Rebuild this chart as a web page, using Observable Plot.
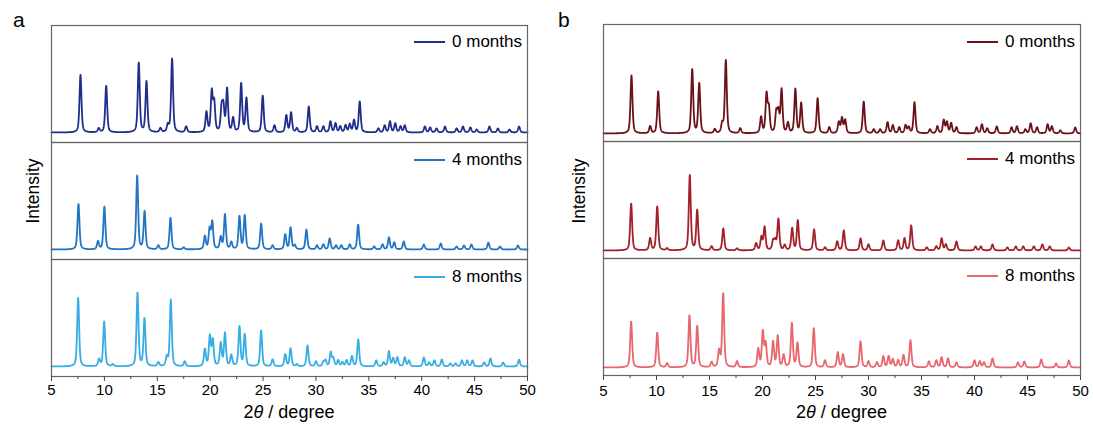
<!DOCTYPE html>
<html><head><meta charset="utf-8">
<script src="https://cdn.jsdelivr.net/npm/d3@7"></script>
<script src="https://cdn.jsdelivr.net/npm/@observablehq/plot@0.6"></script>
<style>
body{margin:0;background:#fff;font-family:"Liberation Sans",Arial,sans-serif;}
#wrap{position:relative;width:1093px;height:425px;overflow:hidden;}
.abs{position:absolute;white-space:nowrap;color:#000;}
.leg{position:absolute;display:flex;align-items:center;font-size:17px;white-space:nowrap;}
.leg span.sw{display:inline-block;width:31px;height:2px;margin-right:7px;}
svg{position:absolute;}
</style></head><body><div id="wrap"></div>
<script>
// ---- categories ----
const series = ["0 months", "4 months", "8 months"];
const colorsA = ["#1f2d8c", "#2274c4", "#37ade4"];
const colorsB = ["#6b1119", "#a3202b", "#e8666c"];
const xTicks = [5, 10, 15, 20, 25, 30, 35, 40, 45, 50];
const xMinorTicks = [7.5, 12.5, 17.5, 22.5, 27.5, 32.5, 37.5, 42.5, 47.5];

// ---- panel a, 0 months: peak positions (2θ) and heights ----
const a0Pos = [7.74, 9.47, 10.17, 13.25, 13.98, 15.3, 16.0, 16.4, 17.73, 19.65, 20.15, 20.38, 21.08, 21.25, 21.6, 22.17, 22.93, 23.43, 24.97, 26.08, 27.2, 27.65, 28.2, 29.32, 30.1, 30.7, 31.37, 31.85, 32.3, 32.8, 33.2, 33.6, 34.14, 35.9, 36.5, 37.0, 37.5, 38.0, 38.4, 40.3, 40.8, 41.4, 42.2, 43.3, 43.9, 44.6, 45.2, 46.4, 47.2, 48.3, 49.2];
const a0H   = [58, 4, 47, 70, 51, 4, 7, 74, 6, 20, 40, 29, 23, 24, 43, 14, 49, 34, 37, 7, 17, 20, 4, 26, 6, 6, 11, 9, 6, 7, 8, 12, 31, 4, 7, 11, 9, 6, 7, 6, 5, 4, 6, 4, 6, 5, 3, 6, 4, 3, 6];
// ---- panel a, 4 months ----
const a1Pos = [7.55, 9.4, 10.0, 13.1, 13.8, 15.1, 16.25, 17.5, 19.5, 19.95, 20.2, 21.0, 21.4, 22.0, 22.77, 23.27, 24.82, 25.9, 27.1, 27.6, 28.0, 29.1, 30.1, 30.7, 31.3, 31.9, 32.4, 33.2, 33.99, 35.5, 36.3, 36.9, 37.4, 38.3, 40.2, 41.8, 43.3, 44.0, 44.7, 46.3, 47.4, 49.1];
const a1H   = [46, 8, 43, 74, 38, 4, 32, 2, 13, 20, 27, 12, 35, 7, 33, 34, 26, 4, 15, 22, 4, 20, 4, 5, 11, 4, 4, 5, 25, 3, 5, 12, 7, 8, 5, 6, 3, 4, 5, 7, 3, 4];
// ---- panel a, 8 months ----
const a2Pos = [7.52, 9.5, 9.98, 10.8, 13.13, 13.79, 15.1, 15.9, 16.28, 17.6, 19.5, 19.97, 20.25, 21.0, 21.4, 22.0, 22.77, 23.27, 24.82, 25.9, 27.1, 27.6, 28.2, 29.2, 30.0, 30.7, 30.9, 31.4, 31.65, 32.1, 32.5, 32.9, 33.4, 34.0, 35.7, 36.4, 36.9, 37.3, 37.7, 38.4, 38.8, 40.2, 40.7, 41.2, 41.9, 42.7, 43.2, 43.8, 44.3, 44.8, 45.9, 46.5, 47.7, 49.2];
const a2H   = [69, 7, 45, 2, 74, 48, 4, 9, 67, 5, 17, 30, 26, 23, 33, 11, 40, 32, 36, 7, 12, 18, 2, 21, 5, 4, 6, 14, 8, 6, 4, 6, 10, 27, 6, 4, 15, 8, 9, 9, 6, 9, 4, 6, 7, 3, 3, 6, 6, 6, 4, 8, 4, 7];

// ---- panel b, 0 months ----
const b0Pos = [7.64, 9.4, 10.16, 13.37, 14.03, 15.5, 16.2, 16.54, 17.9, 19.87, 20.38, 20.6, 21.3, 21.5, 21.8, 22.4, 23.1, 23.65, 25.2, 26.3, 27.2, 27.5, 27.8, 29.55, 30.5, 31.1, 31.8, 32.3, 32.9, 33.5, 33.8, 34.34, 35.8, 36.5, 37.1, 37.4, 37.8, 38.3, 40.2, 40.7, 41.2, 42.1, 43.5, 44.0, 44.8, 45.3, 45.9, 46.9, 47.3, 48.1, 49.5];
const b0H   = [58, 7, 42, 64, 50, 4, 9, 73, 5, 16, 38, 24, 20, 20, 43, 10, 44, 30, 35, 6, 11, 15, 13, 32, 4, 4, 11, 8, 6, 8, 6, 31, 4, 7, 13, 11, 10, 6, 6, 9, 5, 7, 6, 7, 4, 10, 6, 9, 7, 3, 6];
// ---- panel b, 4 months ----
const b1Pos = [7.61, 9.4, 10.07, 11.0, 13.14, 13.84, 15.2, 16.3, 17.6, 19.4, 19.9, 20.2, 21.0, 21.2, 21.5, 22.1, 22.8, 23.33, 24.87, 25.9, 27.05, 27.67, 29.25, 30.0, 31.4, 32.8, 33.4, 34.03, 35.5, 36.4, 36.9, 37.3, 38.3, 40.1, 40.6, 41.7, 43.1, 43.9, 44.6, 45.6, 46.4, 47.1, 48.9];
const b1H   = [47, 12, 44, 2, 75, 40, 4, 22, 2, 7, 13, 23, 9, 9, 31, 5, 22, 30, 21, 3, 9, 20, 12, 6, 10, 10, 12, 25, 3, 4, 12, 6, 9, 4, 4, 6, 3, 4, 4, 4, 6, 4, 3];
// ---- panel b, 8 months ----
const b2Pos = [7.61, 10.07, 11.0, 13.11, 13.84, 15.2, 15.9, 16.29, 17.6, 19.6, 20.03, 20.3, 21.0, 21.44, 22.0, 22.77, 23.3, 24.84, 25.9, 27.1, 27.6, 29.25, 30.0, 30.8, 31.4, 31.9, 32.3, 32.8, 33.3, 33.96, 35.7, 36.4, 36.9, 37.5, 38.3, 40.0, 40.5, 40.9, 41.7, 44.1, 44.7, 46.3, 47.7, 48.9];
const b2H   = [46, 35, 4, 52, 41, 5, 16, 74, 6, 18, 35, 23, 25, 31, 12, 44, 24, 39, 7, 15, 13, 26, 6, 5, 11, 11, 8, 7, 12, 27, 6, 7, 10, 9, 5, 7, 6, 5, 9, 5, 6, 8, 4, 7];

// build a diffraction profile from peak list (pseudo-Voigt peak shape)
function profile(pos, h, name) {
  const w = 0.22, out = [];
  for (let i = 0; i <= 2250; i++) {
    const x = 5 + i * 0.02;
    let y = 0;
    for (let k = 0; k < pos.length; k++) {
      const d = (x - pos[k]) / (w / 2);
      y += h[k] * (0.5 / (1 + d * d) + 0.5 * Math.exp(-Math.LN2 * d * d));
    }
    out.push({s: name, x, y});
  }
  return out;
}

const font = '"Liberation Sans", Arial, sans-serif';
const wrap = document.getElementById("wrap");

function panel(cfg) {
  const data = cfg.peaks.flatMap(([p, h], i) => profile(p, h, series[i]));
  const svg = Plot.plot({
    width: cfg.width, height: 400,
    marginLeft: cfg.ml, marginRight: cfg.mr, marginTop: 24, marginBottom: cfg.mb,
    style: {fontFamily: font, fontSize: "15px", color: "#000", background: "transparent"},
    x: {domain: [5, 50], label: null},
    y: {domain: cfg.ydom, axis: null},
    fy: {domain: series, axis: null, padding: 0},
    color: {domain: series, range: cfg.colors},
    marks: [
      Plot.line(data, {x: "x", y: "y", fy: "s", stroke: "s", strokeWidth: 1.8, strokeLinejoin: "round"}),
      Plot.frame({stroke: "#666", strokeWidth: 1.2}),
      Plot.axisX({ticks: xTicks, tickSize: 5, tickPadding: cfg.tp, tickFormat: d => String(d), fontSize: 15, stroke: "#444"}),
      Plot.axisX({ticks: xMinorTicks, tickSize: 3, tickFormat: () => "", stroke: "#444"})
    ]
  });
  svg.style.left = cfg.left + "px";
  svg.style.top = "0px";
  wrap.appendChild(svg);

  const x0 = cfg.left + cfg.ml, x1 = cfg.left + cfg.width - cfg.mr;
  const fh = (400 - 24 - cfg.mb) / 3;
  series.forEach((s, i) => {
    const d = document.createElement("div");
    d.className = "leg";
    d.style.right = (1093 - x1 + 5) + "px";
    d.style.top = (24 + i * fh + 18 - 10) + "px";
    d.style.height = "20px";
    d.innerHTML = `<span class="sw" style="background:${cfg.colors[i]}"></span><span>${s}</span>`;
    wrap.appendChild(d);
  });
  const L = document.createElement("div");
  L.className = "abs"; L.textContent = cfg.letter;
  L.style.cssText += `left:${cfg.left + cfg.letterX}px;top:8px;font-size:21px;`;
  wrap.appendChild(L);
  const Y = document.createElement("div");
  Y.className = "abs"; Y.textContent = "Intensity";
  Y.style.cssText += `left:${cfg.left + cfg.ylx}px;top:191px;font-size:17.5px;transform:translate(-50%,-50%) rotate(-90deg);`;
  wrap.appendChild(Y);
  const X = document.createElement("div");
  X.className = "abs"; X.innerHTML = "2<i>θ</i> / degree";
  X.style.cssText += `left:${(x0 + x1) / 2}px;top:402px;font-size:18px;transform:translateX(-50%);`;
  wrap.appendChild(X);
}

panel({left: 0, width: 546, ml: 51, mr: 19, mb: 23, tp: 3, ydom: [-10, 107.67],
       colors: colorsA, letter: "a", letterX: 13, ylx: 33,
       peaks: [[a0Pos, a0H], [a1Pos, a1H], [a2Pos, a2H]]});
panel({left: 546, width: 547, ml: 57, mr: 13, mb: 25, tp: 5, ydom: [-8, 109],
       colors: colorsB, letter: "b", letterX: 12, ylx: 33,
       peaks: [[b0Pos, b0H], [b1Pos, b1H], [b2Pos, b2H]]});
</script></body></html>
